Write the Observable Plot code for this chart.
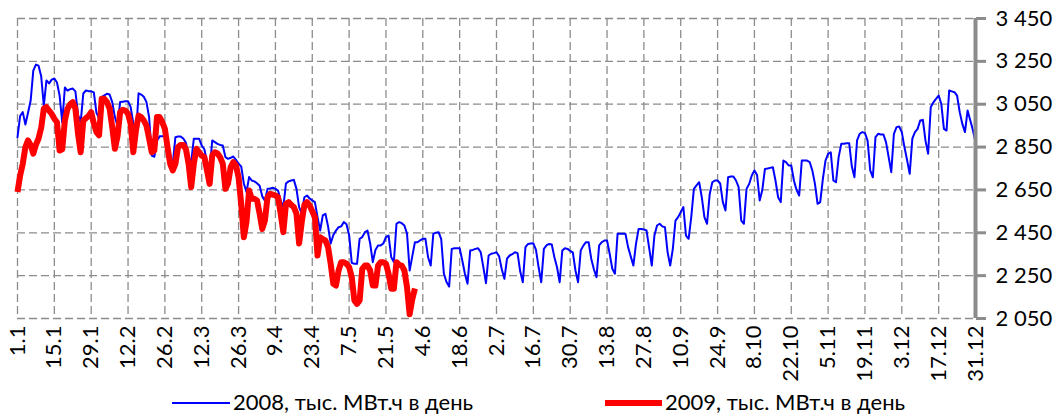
<!DOCTYPE html>
<html><head><meta charset="utf-8">
<script src="https://cdn.jsdelivr.net/npm/d3@7"></script>
<script src="https://cdn.jsdelivr.net/npm/@observablehq/plot@0.6"></script>
<style>
body{margin:0;background:#fff;font-family:Lato,"Open Sans",sans-serif;}
#wrap{position:relative;width:1056px;height:416px;overflow:hidden;}
.lg{position:absolute;font-size:22px;line-height:28px;top:388px;color:#000;white-space:nowrap;}
</style></head>
<body><div id="wrap"></div>
<script>
const xLabels = ["1.1","15.1","29.1","12.2","26.2","12.3","26.3","9.4","23.4","7.5","21.5","4.6","18.6","2.7","16.7","30.7","13.8","27.8","10.9","24.9","8.10","22.10","5.11","19.11","3.12","17.12","31.12"];
const xTicks = [0,14,28,42,56,70,84,98,112,126,140,154,168,182,196,210,224,238,252,266,280,294,308,322,336,350,364];
const yTicks = [2050,2250,2450,2650,2850,3050,3250,3450];
const yLabels = ["2 050","2 250","2 450","2 650","2 850","3 050","3 250","3 450"];
const seriesNames = ["2008, тыс. МВт.ч в день","2009, тыс. МВт.ч в день"];

const blue2008 = [
2896,2995,3013,2955,
3010,3067,3207,3235,3230,3180,3044,
3161,3147,3165,3170,3151,3090,2965,
3128,3113,3120,3123,3110,3000,2965,
3100,3114,3111,3110,3105,3010,2985,
3083,3091,3099,3095,3060,2990,2950,
3060,3062,3064,3064,3036,2960,2900,
3101,3095,3085,3060,2990,2810,2805,
2880,2900,2900,2900,2880,2790,2770,
2896,2899,2899,2890,2870,2800,2780,
2889,2889,2889,2857,2840,2780,2740,
2881,2873,2865,2860,2857,2803,2795,
2800,2806,2790,2772,2760,2680,2640,
2710,2694,2690,2681,2670,2620,2600,
2655,2657,2660,2655,2647,2600,2570,
2680,2690,2694,2697,2655,2570,2539,
2616,2624,2610,2601,2593,2523,2460,
2531,2539,2480,2400,2440,2460,2476,
2480,2500,2490,2440,2310,2305,2305,
2422,2430,2453,2460,2400,2313,2370,
2391,2391,2400,2430,2437,2336,2313,
2492,2500,2495,2484,2446,2274,2340,
2406,2406,2415,2422,2422,2336,2297,
2446,2450,2453,2420,2260,2220,2199,
2375,2378,2378,2378,2321,2259,2212,
2367,2370,2375,2378,2360,2290,2215,
2344,2352,2355,2359,2340,2280,2235,
2329,2344,2350,2359,2355,2270,2219,
2383,2398,2400,2401,2370,2289,2219,
2375,2391,2398,2395,2336,2289,2219,
2367,2378,2375,2365,2359,2274,2219,
2367,2390,2406,2406,2329,2280,2243,
2391,2406,2414,2414,2352,2282,2259,
2445,2445,2445,2445,2383,2340,2297,
2398,2468,2468,2465,2461,2380,2297,
2437,2484,2492,2480,2476,2360,2297,
2375,2507,2523,2546,2570,2437,2422,
2523,2655,2671,2686,2616,2523,2492,
2630,2686,2694,2694,2680,2593,2554,
2709,2713,2713,2694,2663,2507,2492,
2655,2678,2717,2741,2720,2601,2650,
2748,2750,2753,2756,2694,2616,2593,
2787,2780,2764,2764,2694,2650,2624,
2787,2787,2787,2780,2741,2678,2585,
2593,2700,2787,2818,2826,2694,2686,
2803,2865,2866,2868,2868,2760,2709,
2881,2912,2920,2915,2880,2741,2709,
2896,2912,2909,2909,2873,2803,2733,
2912,2943,2946,2920,2850,2790,2725,
2889,2920,2935,2974,2977,2880,2819,
3036,3059,3075,3090,3052,2935,2927,
3114,3110,3106,3090,3013,2958,2920,
3021,2975,2930,2873
];

const red2009 = [
2640,2717,2772,2850,2881,2860,2819,2860,2890,2940,
3029,3036,3020,3005,2982,2966,2834,2840,2974,3029,
3050,3060,3029,2912,2826,2974,2985,2995,3013,2960,
2920,2905,3075,3075,3060,3030,2943,2842,2900,3013,
3024,3020,3005,2958,2826,2927,2997,2990,2974,2950,
2890,2826,2834,2990,2990,2966,2935,2850,2772,2741,
2772,2850,2860,2860,2840,2772,2663,2772,2842,2826,
2810,2803,2741,2678,2811,2826,2820,2803,2772,2655,
2680,2756,2780,2764,2709,2585,2429,2500,2647,2609,
2609,2601,2539,2468,2507,2616,2632,2628,2624,2616,
2539,2453,2585,2593,2580,2570,2539,2400,2500,2580,
2593,2577,2550,2523,2344,2429,2420,2414,2383,2305,
2212,2204,2274,2313,2313,2305,2290,2243,2134,2118,
2134,2282,2297,2297,2274,2204,2204,2297,2313,2313,
2305,2259,2189,2189,2313,2300,2297,2274,2196,2070,
2140,2190
];

const gridStyle = {stroke:"#8c8c8c", strokeOpacity:1, strokeWidth:1.3, strokeDasharray:"8,4"};

const chart = Plot.plot({
  width: 1056, height: 388,
  marginLeft: 17, marginRight: 81, marginTop: 18, marginBottom: 70,
  style: {fontFamily: "Lato, 'Open Sans', sans-serif", fontSize: "22px", color: "#000", background: "#fff", overflow: "visible"},
  x: {domain: [0, 364]},
  y: {domain: [2050, 3450]},
  marks: [
    Plot.gridX(xTicks, gridStyle),
    Plot.gridY(yTicks, gridStyle),
    Plot.line(blue2008, {x: (d, i) => i, y: d => d, stroke: "#0000ff", strokeWidth: 2}),
    Plot.line(red2009, {x: (d, i) => i, y: d => d, stroke: "#ff0000", strokeWidth: 6, strokeLinecap: "butt"}),
    Plot.axisX(xTicks, {tickFormat: d => xLabels[xTicks.indexOf(d)], tickRotate: -90, tickSize: 0, tickPadding: 7, fontSize: 22, label: null}),
    Plot.axisY(yTicks, {anchor: "right", tickFormat: d => yLabels[yTicks.indexOf(d)], tickSize: 10, tickPadding: 10, stroke: "#8c8c8c", strokeWidth: 3, fontSize: 22, label: null}),
    Plot.ruleX([364], {stroke: "#8c8c8c", strokeWidth: 4})
  ]
});
const wrap = document.getElementById("wrap");
wrap.appendChild(chart);

function addLegend(left, w, h, color, textLeft, text) {
  const s = document.createElement("div");
  s.style.cssText = `position:absolute;left:${left}px;top:${403 - h/2}px;width:${w}px;height:${h}px;background:${color};`;
  wrap.appendChild(s);
  const t = document.createElement("div");
  t.className = "lg";
  t.style.left = textLeft + "px";
  t.textContent = text;
  wrap.appendChild(t);
}
addLegend(172, 58, 2, "#0000ff", 233, seriesNames[0]);
addLegend(605, 57, 6, "#ff0000", 665, seriesNames[1]);
</script>
</body></html>
